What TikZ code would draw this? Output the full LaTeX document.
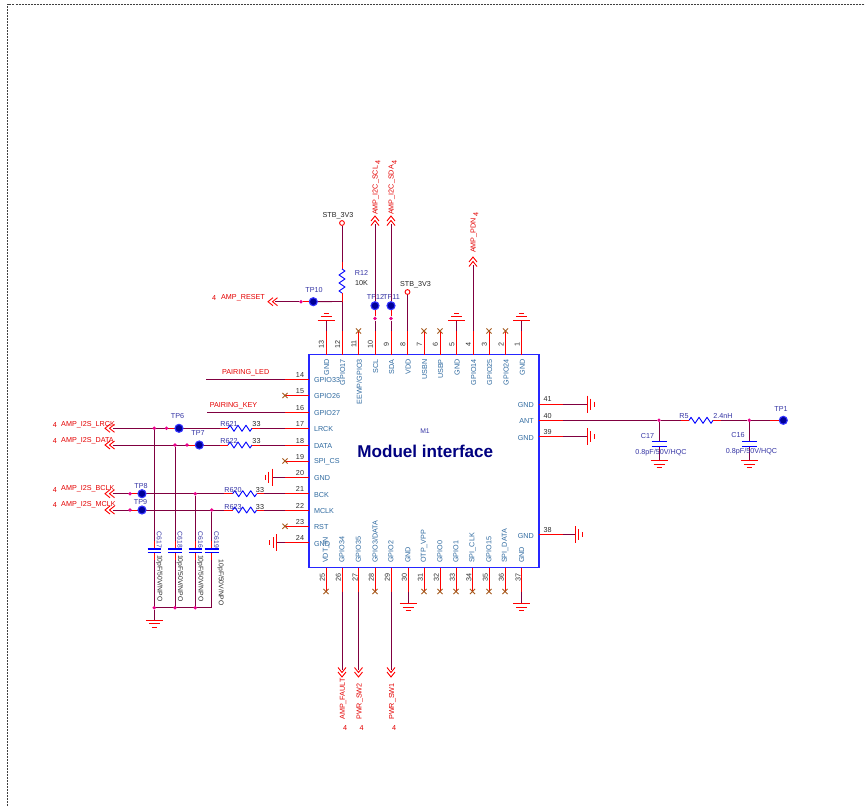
\documentclass[tikz,border=0pt]{standalone}
\usepackage{fontspec}
\usetikzlibrary{calc}
\setmainfont{Liberation Sans}
\definecolor{wirec}{HTML}{800040}
\definecolor{pinlab}{HTML}{2F6AA0}
\definecolor{refc}{HTML}{3535A5}
\definecolor{ncc}{HTML}{A65A1E}
\definecolor{numc}{HTML}{303030}
\newcommand{\smallf}{\fontsize{7.2}{8}\selectfont}
\newcommand{\numf}{\fontsize{7.2}{8}\selectfont}
\tikzset{
  pinl/.style={draw=red,line width=0.85pt},
  wirel/.style={draw=wirec,line width=0.85pt},
  bodyl/.style={draw=blue!85!white,line width=1.25pt},
  resl/.style={draw=blue,line width=0.9pt,line join=round},
  capl/.style={draw=blue,line width=1.1pt},
  gndl/.style={draw=red,line width=0.9pt},
  ncl/.style={draw=ncc,line width=0.9pt},
  chevl/.style={draw=red,line width=0.9pt},
  framel/.style={draw=black!75,line width=1pt,dash pattern=on 2pt off 1pt},
  dotn/.style={circle,fill=magenta,inner sep=0pt,minimum size=3.8pt},
  tpn/.style={circle,draw=blue!80!white,line width=1.1pt,fill=blue!60!black,inner sep=0pt,minimum size=8pt},
  pwrn/.style={circle,draw=red,fill=white,line width=0.9pt,inner sep=0pt,minimum size=4.8pt},
  plab/.style={font=\smallf,text=pinlab,inner sep=0pt},
  numl/.style={font=\numf,text=numc,inner sep=0pt},
  redl/.style={font=\smallf,text=red!90!black,inner sep=0pt},
  refl/.style={font=\smallf,text=refc,inner sep=0pt},
  vall/.style={font=\smallf,text=black!85,inner sep=0pt},
  txtl/.style={font=\smallf,text=black!85,inner sep=0pt}
}
% chevrons: apex at #1, pointing #2 degrees
\newcommand{\chev}[2]{\begin{scope}[shift={(#1)},rotate=#2]
  \draw[chevl] (-5,-4)--(0,0)--(-5,4) (-9.5,-4)--(-4.5,0)--(-9.5,4);
\end{scope}}
\newcommand{\zigH}[1]{\draw[resl] (#1) -- ++(2,-3) -- ++(4,6) -- ++(4,-6) -- ++(4,6) -- ++(4,-6) -- ++(4,6) -- ++(2,-3);}
\newcommand{\zigV}[1]{\draw[resl] (#1) -- ++(3,2) -- ++(-6,4) -- ++(6,4) -- ++(-6,4) -- ++(6,4) -- ++(-6,4) -- ++(3,2);}
\newcommand{\gndU}[1]{\draw[gndl] (#1)++(-8.5,0)--++(17,0) (#1)++(-5.5,-3.7)--++(11,0) (#1)++(-2.5,-7)--++(5,0);}
\newcommand{\gndD}[1]{\draw[gndl] (#1)++(-8.5,0)--++(17,0) (#1)++(-5.5,3.7)--++(11,0) (#1)++(-2.5,7)--++(5,0);}
\newcommand{\gndR}[1]{\draw[gndl] (#1)++(0,-8.5)--++(0,17) (#1)++(3.7,-5.5)--++(0,11) (#1)++(7,-2.5)--++(0,5);}
\newcommand{\gndL}[1]{\draw[gndl] (#1)++(0,-8.5)--++(0,17) (#1)++(-3.7,-5.5)--++(0,11) (#1)++(-7,-2.5)--++(0,5);}
\newcommand{\ncx}[1]{\draw[ncl] (#1)++(-2.6,-2.6)--++(5.2,5.2) (#1)++(-2.6,2.6)--++(5.2,-5.2);}
\begin{document}
\begin{tikzpicture}[x=1pt,y=-1pt]
\useasboundingbox (0,0) rectangle (865,806);
\fill[white] (0,0) rectangle (865,806);
\coordinate (fbl) at (7.5,806);
\coordinate (ftl) at (7.5,4);
\coordinate (ftr) at (865,4);
\draw[framel] (fbl)--(ftl)--(ftr);

% module body
\node[draw=none,inner sep=0pt,minimum width=229.5pt,minimum height=212.5pt] (mod) at (424,461.2) {};
\draw[bodyl] (mod.north west) rectangle (mod.south east);
\node[font=\fontsize{6.8}{8}\selectfont,text=refc,inner sep=0pt] (m1) at (425,431.3) {M1};
\node[font=\fontsize{17.1}{20}\selectfont\bfseries,text=blue!50!black,inner sep=0pt] (mt) at (425.3,451) {Moduel interface};

% top pins
\foreach \x/\n/\l in {326/13/GND,342/12/GPIO17,358.5/11/{EEWP/GPIO3},375/10/SCL,391/9/SDA,407.5/8/VDD,424/7/USBN,440/6/USBP,456.5/5/GND,473/4/GPIO14,489/3/GPIO25,505.5/2/GPIO24,521.7/1/GND}{
  \coordinate (p\n) at (\x,355);
  \coordinate (e\n) at (\x,331);
  \draw[pinl] (p\n)--(e\n);
  \node[numl,rotate=90] (n\n) at (\x-4.5,344) {\n};
  \node[plab,rotate=90,anchor=east] (l\n) at (\x+0.7,359) {\l};
}
% bottom pins
\foreach \x/\n/\l in {326/25/VDT\_IN,342/26/GPIO34,358.5/27/GPIO35,375/28/{GPIO3/DATA},391/29/GPIO2,408/30/GND,424/31/OTP\_VPP,440/32/GPIO0,456/33/GPIO1,472.5/34/SPI\_CLK,489/35/GPIO15,505/36/SPI\_DATA,521.7/37/GND}{
  \coordinate (p\n) at (\x,567.5);
  \coordinate (e\n) at (\x,591.5);
  \draw[pinl] (p\n)--(e\n);
  \node[numl,rotate=90] (n\n) at (\x-3.5,577) {\n};
  \node[plab,rotate=90,anchor=west] (l\n) at (\x,563) {\l};
}
% left pins
\foreach \y/\n/\l in {379.5/14/GPIO33,395.5/15/GPIO26,412/16/GPIO27,428.3/17/LRCK,445/18/DATA,461/19/SPI\_CS,477.2/20/GND,493.7/21/BCK,510/22/MCLK,526.3/23/RST,542.7/24/GND}{
  \coordinate (p\n) at (309.2,\y);
  \coordinate (e\n) at (285,\y);
  \draw[pinl] (p\n)--(e\n);
  \node[numl] (n\n) at (300,\y-4.4) {\n};
  \node[plab,anchor=west] (l\n) at (313.8,\y+0.9) {\l};
}
% right pins
\foreach \y/\n/\l in {404/41/GND,420.3/40/ANT,436.7/39/GND,534.5/38/GND}{
  \coordinate (p\n) at (538.7,\y);
  \coordinate (e\n) at (563,\y);
  \draw[pinl] (p\n)--(e\n);
  \node[numl] (n\n) at (547.7,\y-4.6) {\n};
  \node[plab,anchor=east] (l\n) at (534,\y+1.2) {\l};
}
% no connects
\ncx{e11}\ncx{e7}\ncx{e6}\ncx{e3}\ncx{e2}
\ncx{e15}\ncx{e19}\ncx{e23}\ncx{e25}\ncx{e28}
\ncx{e31}\ncx{e32}\ncx{e33}\ncx{e34}\ncx{e35}\ncx{e36}

% grounds
\foreach \n in {13,5,1}{
  \coordinate (g\n) at ($(e\n)+(0,-11)$);
  \draw[wirel] (e\n)--(g\n);
  \gndU{g\n}
}
\foreach \n in {30,37}{
  \coordinate (g\n) at ($(e\n)+(0,12)$);
  \draw[wirel] (e\n)--(g\n);
  \gndD{g\n}
}
\coordinate (g20) at (272.5,477.2);
\draw[wirel] (e20)--(g20); \gndL{g20}
\coordinate (g24) at (276.7,542.7);
\draw[wirel] (e24)--(g24); \gndL{g24}
\coordinate (g41) at (587,404);
\draw[wirel] (e41)--(g41); \gndR{g41}
\coordinate (g39) at (587,436.7);
\draw[wirel] (e39)--(g39); \gndR{g39}
\coordinate (g38) at (575,534.5);
\draw[wirel] (e38)--(g38); \gndR{g38}

% STB_3V3 and R12
\node[pwrn] (pw1) at (342,223) {};
\node[txtl] (pw1t) at (338,215.3) {STB\_3V3};
\coordinate (r12a) at (342,269);
\coordinate (r12b) at (342,293);
\coordinate (r12as) at (342,261.5);
\coordinate (r12bs) at (342,301.5);
\draw[wirel] (pw1)--(r12as);
\draw[pinl] (r12as)--(r12a);
\zigV{r12a}
\draw[pinl] (r12b)--(r12bs);
\draw[wirel] (r12bs)--(e12);
\node[refl] (r12t) at (361.5,273) {R12};
\node[vall] (r12v) at (361.5,283.5) {10K};
\node[pwrn] (pw2) at (407.5,292) {};
\node[txtl] (pw2t) at (415.5,284.3) {STB\_3V3};
\draw[wirel] (pw2)--(e8);

% AMP_RESET and TP10
\node[tpn] (tp10) at (313.3,301.7) {};
\node[refl] (tp10t) at (314,290.3) {TP10};
\node[dotn] (d10) at (301,301.7) {};
\coordinate (c10) at (268,301.7);
\coordinate (c10w) at (275,301.7);
\draw[wirel] (r12bs)--(tp10);
\draw[pinl] (tp10)--(d10);
\draw[wirel] (d10)--(c10w);
\chev{c10}{180}
\node[redl] (c10t) at (243,297.3) {AMP\_RESET};
\node[redl] (c10n) at (214,298.3) {4};

% I2C and PDN
\coordinate (c10t0) at (375,216);
\coordinate (c9t0) at (391,216);
\coordinate (c4t0) at (473,257);
\node[tpn] (tp12) at (375,305.7) {};
\node[tpn] (tp11) at (391,305.7) {};
\node[refl] (tp12t) at (375.5,296.7) {TP12};
\node[refl] (tp11t) at (391.5,296.7) {TP11};
\node[dotn] (d12) at (375,318.5) {};
\node[dotn] (d11) at (391,318.5) {};
\draw[wirel] (e10)--(d12)--(tp12)--($(c10t0)+(0,8)$);
\draw[wirel] (e9)--(d11)--(tp11)--($(c9t0)+(0,8)$);
\draw[pinl] (d12)--(tp12);
\draw[pinl] (d11)--(tp11);
\draw[wirel] (e4)--($(c4t0)+(0,8)$);
\chev{c10t0}{90}
\chev{c9t0}{90}
\chev{c4t0}{90}
\node[redl,rotate=90,anchor=west] (t10) at (375.8,215) {AMP\_I2C\_SCL};
\node[redl,rotate=90,anchor=west] (t9) at (391.8,215) {AMP\_I2C\_SDA};
\node[redl,rotate=90,anchor=west] (t4) at (473.8,253) {AMP\_PDN};
\node[redl,rotate=90] (t10n) at (378,162.5) {4};
\node[redl,rotate=90] (t9n) at (394.5,162.5) {4};
\node[redl,rotate=90] (t4n) at (476,214.5) {4};

% bottom signals
\foreach \n/\l/\ll in {26/AMP\_FAULT/678,27/PWR\_SW2/683,29/PWR\_SW1/683}{
  \coordinate (cb\n) at ($(e\n)+(0,85.5)$);
  \draw[wirel] (e\n)--($(cb\n)+(0,-7)$);
  \chev{cb\n}{-90}
  \node[redl,rotate=90,anchor=east] (tb\n) at ($(e\n)+(1.2,\ll-591.5)$) {\l};
  \node[redl] (nb\n) at ($(e\n)+(3,137)$) {4};
}

% pairing
\coordinate (pl) at (206,379.5);
\coordinate (pk) at (207,412);
\draw[wirel] (pl)--(e14);
\draw[wirel] (pk)--(e16);
\node[redl] (plt) at (245.7,372.3) {PAIRING\_LED};
\node[redl] (pkt) at (233.5,405.3) {PAIRING\_KEY};

% I2S signals
\foreach \n/\l/\y/\ty/\lx/\sa/\sb in {17/AMP\_I2S\_LRCK/428.3/424.3/228/220/260,18/AMP\_I2S\_DATA/445/440.5/228/220/260,21/AMP\_I2S\_BCLK/493.7/489/232.7/224/264,22/AMP\_I2S\_MCLK/510/504.5/232.7/224/264}{
  \coordinate (ci\n) at (105,\y);
  \coordinate (ciw\n) at (113,\y);
  \coordinate (ra\n) at (\lx,\y);
  \coordinate (rb\n) at (\lx+24,\y);
  \coordinate (rsa\n) at (\sa,\y);
  \coordinate (rsb\n) at (\sb,\y);
  \chev{ci\n}{180}
  \draw[wirel] (ciw\n)--(rsa\n);
  \draw[pinl] (rsa\n)--(ra\n);
  \zigH{ra\n}
  \draw[pinl] (rb\n)--(rsb\n);
  \draw[wirel] (rsb\n)--(e\n);
  \node[redl,anchor=west] (ti\n) at (61,\ty) {\l};
  \node[redl] (tin\n) at (55,\ty+1) {4};
}
\node[refl] (r621) at (229,424.3) {R621};
\node[vall] (v621) at (256.5,424.3) {33};
\node[refl] (r622) at (229,441) {R622};
\node[vall] (v622) at (256.5,441) {33};
\node[refl] (r620) at (233,490) {R620};
\node[vall] (v620) at (260,490) {33};
\node[refl] (r623) at (233,507) {R623};
\node[vall] (v623) at (260,507) {33};

\node[tpn] (tp6) at (179,428.3) {};
\node[refl] (tp6t) at (177.5,416.3) {TP6};
\node[tpn] (tp7) at (199.3,445) {};
\node[refl] (tp7t) at (198,433.3) {TP7};
\node[tpn] (tp8) at (142,493.7) {};
\node[refl] (tp8t) at (141,486.3) {TP8};
\node[tpn] (tp9) at (142,510) {};
\node[refl] (tp9t) at (140.5,502.3) {TP9};
\node[dotn] (dt6) at (166.5,428.3) {};
\node[dotn] (dt7) at (187,445) {};
\node[dotn] (dt8) at (130,493.7) {};
\node[dotn] (dt9) at (130,510) {};
\draw[pinl] (dt6)--(tp6);
\draw[pinl] (dt7)--(tp7);
\draw[pinl] (dt8)--(tp8);
\draw[pinl] (dt9)--(tp9);

% decoupling caps
\foreach \n/\x/\y/\ref/\vx/\vy/\rx in {a/154.3/428.3/C617/159.5/555/159.3,b/175/445/C618/180/555/180,c/195.3/493.7/C616/200.3/555/200.5,d/211.7/510/C619/220.7/559.5/216.5}{
  \coordinate (ct\n) at (\x,549);
  \coordinate (cb\n) at (\x,552.4);
  \coordinate (cts\n) at (\x,541);
  \coordinate (cbs\n) at (\x,560);
  \coordinate (cbot\n) at (\x,607.7);
  \node[dotn] (dc\n) at (\x,\y) {};
  \draw[wirel] (dc\n)--(cts\n);
  \draw[pinl] (cts\n)--(ct\n);
  \draw[pinl] (cb\n)--(cbs\n);
  \draw[wirel] (cbs\n)--(cbot\n);
  \draw[capl] ($(ct\n)+(-6.8,0)$)--($(ct\n)+(6.8,0)$);
  \draw[capl] ($(cb\n)+(-6.8,0)$)--($(cb\n)+(6.8,0)$);
  \node[refl,rotate=-90,anchor=west,font=\fontsize{6.8}{8}\selectfont] (ct\n t) at (\rx,531.5) {\ref};
  \node[vall,rotate=-90,anchor=west,font=\fontsize{6.8}{8}\selectfont] (cv\n) at (\vx,\vy) {10pF/50V/NPO};
}
\draw[wirel] (cbota)--(cbotd);
\node[dotn] (dba) at (cbota) {};
\node[dotn] (dbb) at (cbotb) {};
\node[dotn] (dbc) at (cbotc) {};
\coordinate (gc) at (154.3,620);
\draw[wirel] (dba)--(gc);
\gndD{gc}

% ANT
\node[dotn] (da) at (659,420.3) {};
\node[dotn] (db) at (749.3,420.3) {};
\node[tpn] (tp1) at (783.3,420.3) {};
\node[refl] (tp1t) at (781,408.6) {TP1};
\coordinate (r5a) at (689,420.3);
\coordinate (r5b) at (713,420.3);
\coordinate (r5as) at (681,420.3);
\coordinate (r5bs) at (721,420.3);
\coordinate (tp1s) at (770,420.3);
\draw[wirel] (e40)--(da)--(r5as);
\draw[pinl] (r5as)--(r5a);
\zigH{r5a}
\draw[pinl] (r5b)--(r5bs);
\draw[wirel] (r5bs)--(db)--(tp1s);
\draw[pinl] (tp1s)--(tp1);
\node[refl] (r5t) at (684,416) {R5};
\node[refl] (r5v) at (723,416) {2.4nH};
\foreach \n/\x/\rx/\ry/\vx/\vy/\d in {C17/659/647.5/436.5/661/452.5/da,C16/749.3/738/435.3/751.5/451.5/db}{
  \coordinate (t\n) at (\x,441.8);
  \coordinate (b\n) at (\x,446.3);
  \coordinate (g\n) at (\x,460.3);
  \draw[wirel] (\d)--(t\n);
  \draw[wirel] (b\n)--(g\n);
  \draw[capl] ($(t\n)+(-7.5,0)$)--($(t\n)+(7.5,0)$);
  \draw[capl] ($(b\n)+(-7.5,0)$)--($(b\n)+(7.5,0)$);
  \gndD{g\n}
  \node[refl] (r\n) at (\rx,\ry) {\n};
  \node[refl] (v\n) at (\vx,\vy) {0.8pF/50V/HQC};
}
\end{tikzpicture}
\end{document}
